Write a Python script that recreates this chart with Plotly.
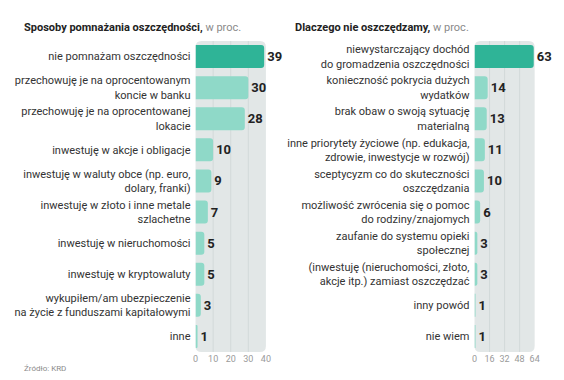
import plotly.graph_objects as go

W, H = 564, 380

left_labels = [
    "nie pomnażam oszczędności",
    "przechowuję je na oprocentowanym<br>koncie w banku",
    "przechowuję je na oprocentowanej<br>lokacie",
    "inwestuję w akcje i obligacje",
    "inwestuję w waluty obce (np. euro,<br>dolary, franki)",
    "inwestuję w złoto i inne metale<br>szlachetne",
    "inwestuję w nieruchomości",
    "inwestuję w kryptowaluty",
    "wykupiłem/am ubezpieczenie<br>na życie z funduszami kapitałowymi",
    "inne",
]
left_values = [39, 30, 28, 10, 9, 7, 5, 5, 3, 1]
left_ticks = [0, 10, 20, 30, 40]

right_labels = [
    "niewystarczający dochód<br>do gromadzenia oszczędności",
    "konieczność pokrycia dużych<br>wydatków",
    "brak obaw o swoją sytuację<br>materialną",
    "inne priorytety życiowe (np. edukacja,<br>zdrowie, inwestycje w rozwój)",
    "sceptycyzm co do skuteczności<br>oszczędzania",
    "możliwość zwrócenia się o pomoc<br>do rodziny/znajomych",
    "zaufanie do systemu opieki<br>społecznej",
    "(inwestuję (nieruchomości, złoto,<br>akcje itp.) zamiast oszczędzać",
    "inny powód",
    "nie wiem",
]
right_values = [63, 14, 13, 11, 10, 6, 3, 3, 1, 1]
right_ticks = [0, 16, 32, 48, 64]

HI = "#2fb497"
LO = "#8fd9c8"
PANEL = "#e2e7e7"
GRID = "#d2d9d9"
FONT = "Roboto"


def px_x(p):
    return p / W


def px_y(p):
    return 1 - p / H


TOP, BOT = 41, 352
L_X0, L_X1 = 195.3, 266.7
R_X0, R_X1 = 478.3, 539.3

fig = go.Figure()

for vals, labels, xa, ya in [
    (left_values, left_labels, "x", "y"),
    (right_values, right_labels, "x2", "y2"),
]:
    fig.add_trace(go.Bar(
        x=vals, y=labels, orientation="h",
        xaxis=xa, yaxis=ya,
        marker=dict(color=[HI] + [LO] * (len(vals) - 1), line=dict(width=0)),
        width=0.74,
        text=vals, textposition="outside", cliponaxis=False,
        constraintext="none",
        textfont=dict(family=FONT, size=13, color="#222222", weight="bold"),
        hoverinfo="skip",
    ))

ydom = [px_y(BOT), px_y(TOP)]
common_y = dict(autorange="reversed", showgrid=False, zeroline=False, showline=False,
                ticks="", ticklabelstandoff=4,
                tickfont=dict(family=FONT, size=11, color="#333333"), domain=ydom)
common_x = dict(showgrid=False, zeroline=False, showline=False, ticks="",
                tickfont=dict(family=FONT, size=9, color="#9a9a9a"))

fig.update_layout(
    width=W, height=H,
    margin=dict(l=0, r=0, t=0, b=0),
    paper_bgcolor="white", plot_bgcolor="rgba(0,0,0,0)",
    showlegend=False, barcornerradius=3,
    xaxis=dict(domain=[px_x(L_X0), px_x(L_X1)], range=[0, 40], tickvals=left_ticks, **common_x),
    yaxis=dict(anchor="x", **common_y),
    xaxis2=dict(domain=[px_x(R_X0), px_x(R_X1)], range=[0, 64], tickvals=right_ticks, anchor="y2", **common_x),
    yaxis2=dict(anchor="x2", **common_y),
)


def rounded_rect(x0, x1, y0, y1, r=6):
    X0, X1 = px_x(x0), px_x(x1)
    Y0, Y1 = px_y(y0), px_y(y1)  # Y0 top, Y1 bottom
    rx, ry = r / W, r / H
    return (f"M {X0+rx} {Y0} L {X1-rx} {Y0} Q {X1} {Y0} {X1} {Y0-ry} "
            f"L {X1} {Y1+ry} Q {X1} {Y1} {X1-rx} {Y1} "
            f"L {X0+rx} {Y1} Q {X0} {Y1} {X0} {Y1+ry} "
            f"L {X0} {Y0-ry} Q {X0} {Y0} {X0+rx} {Y0} Z")


shapes = []
for (a, b) in [(L_X0, L_X1), (R_X0, R_X1)]:
    shapes.append(dict(type="path", path=rounded_rect(a, b, TOP, BOT), xref="paper", yref="paper",
                       fillcolor=PANEL, line=dict(width=0), layer="below"))
for v in left_ticks[1:-1]:
    shapes.append(dict(type="line", xref="x", yref="paper", x0=v, x1=v, y0=px_y(BOT), y1=px_y(TOP),
                       line=dict(color=GRID, width=1), layer="below"))
for v in right_ticks[1:-1]:
    shapes.append(dict(type="line", xref="x2", yref="paper", x0=v, x1=v, y0=px_y(BOT), y1=px_y(TOP),
                       line=dict(color=GRID, width=1), layer="below"))

annotations = [
    dict(text="<b>Sposoby pomnażania oszczędności,</b><span style='color:#8a8a8a'> w proc.</span>",
         x=px_x(19), y=px_y(27), xref="paper", yref="paper", xanchor="left", yanchor="middle",
         showarrow=False, font=dict(family=FONT, size=11, color="#222222")),
    dict(text="<b>Dlaczego nie oszczędzamy,</b><span style='color:#8a8a8a'> w proc.</span>",
         x=px_x(294), y=px_y(27), xref="paper", yref="paper", xanchor="left", yanchor="middle",
         showarrow=False, font=dict(family=FONT, size=11, color="#222222")),
    dict(text="Źródło: KRD", x=px_x(19), y=px_y(368), xref="paper", yref="paper",
         xanchor="left", yanchor="middle", showarrow=False,
         font=dict(family=FONT, size=8, color="#8a8a8a")),
]

fig.update_layout(shapes=shapes, annotations=annotations)

fig.write_html("out.html", config={"displayModeBar": False},
               post_script="document.body.style.margin='0';")
